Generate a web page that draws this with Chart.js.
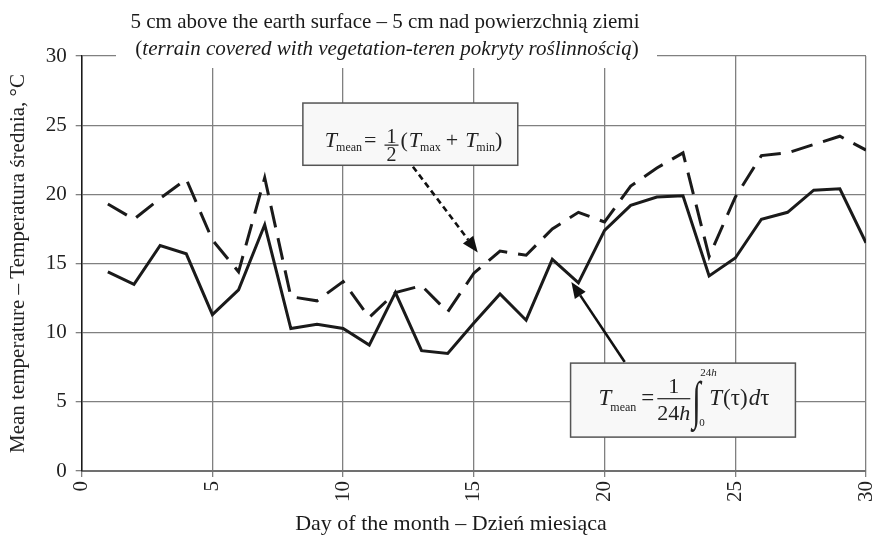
<!DOCTYPE html>
<html>
<head>
<meta charset="utf-8">
<script src="https://cdn.jsdelivr.net/npm/chart.js@4.4.1/dist/chart.umd.min.js"></script>
<style>
  html, body { margin: 0; padding: 0; background: #fff; }
  #wrap { width: 874px; height: 542px; }
</style>
</head>
<body>
<div id="wrap"><canvas id="tempChart" width="874" height="542"></canvas></div>
<script>
const SERIF = '"Liberation Serif", "Times New Roman", serif';

// day of the month
const days = [1, 2, 3, 4, 5, 6, 7, 8, 9, 10, 11, 12, 13, 14, 15,
              16, 17, 18, 19, 20, 21, 22, 23, 24, 25, 26, 27, 28, 29, 30];
// daily mean from the integral of the 24 h record
const integralMean = [14.4, 13.5, 16.3, 15.7, 11.3, 13.1, 17.8, 10.3, 10.6, 10.3,
                      9.1, 12.9, 8.7, 8.5, 10.7, 12.8, 10.9, 15.3, 13.6, 17.4,
                      19.2, 19.8, 19.9, 14.1, 15.4, 18.2, 18.7, 20.3, 20.4, 16.5];
// daily mean as (Tmax + Tmin) / 2
const minMaxMean = [19.3, 18.2, 19.7, 21.1, 16.7, 14.4, 21.2, 12.6, 12.3, 13.7,
                    11.1, 12.9, 13.4, 11.5, 14.3, 15.9, 15.6, 17.5, 18.7, 18.0,
                    20.6, 21.9, 23.0, 15.5, 19.8, 22.8, 23.0, 23.6, 24.2, 23.2];
const dayTicks = [0, 5, 10, 15, 20, 25, 30];
const tempTicks = [0, 5, 10, 15, 20, 25, 30];

// formula boxes and arrows, in axis units
const boxMinMax = { x0: 8.46, x1: 16.68, y0: 26.6, y1: 22.1 };
const boxIntegral = { x0: 18.70, x1: 27.30, y0: 7.8, y1: 2.45 };
const arrowMinMax = { from: [12.67, 22.0], to: [15.15, 15.8] };
const arrowIntegral = { from: [20.77, 7.88], to: [18.73, 13.66] };

const toPoints = (xs, ys) => xs.map((d, i) => ({ x: d, y: ys[i] }));

function run(ctx, x, y, text, font) {
  ctx.font = font;
  ctx.fillText(text, x, y);
  return x + ctx.measureText(text).width;
}

function arrow(ctx, x0, y0, x1, y1, dash) {
  const ang = Math.atan2(y1 - y0, x1 - x0);
  const len = 16, half = 6.5;
  const bx = x1 - len * Math.cos(ang), by = y1 - len * Math.sin(ang);
  ctx.save();
  ctx.strokeStyle = '#111';
  ctx.fillStyle = '#111';
  ctx.lineWidth = 2.6;
  ctx.setLineDash(dash);
  ctx.beginPath();
  ctx.moveTo(x0, y0);
  ctx.lineTo(bx, by);
  ctx.stroke();
  ctx.setLineDash([]);
  ctx.beginPath();
  ctx.moveTo(x1, y1);
  ctx.lineTo(bx + half * Math.sin(ang), by - half * Math.cos(ang));
  ctx.lineTo(bx - half * Math.sin(ang), by + half * Math.cos(ang));
  ctx.closePath();
  ctx.fill();
  ctx.restore();
}

function box(ctx, sx, sy, b) {
  const x = sx.getPixelForValue(b.x0), y = sy.getPixelForValue(b.y0);
  const w = sx.getPixelForValue(b.x1) - x, h = sy.getPixelForValue(b.y1) - y;
  ctx.fillStyle = '#f8f8f8';
  ctx.fillRect(x, y, w, h);
  ctx.strokeStyle = '#555';
  ctx.lineWidth = 1.5;
  ctx.strokeRect(x, y, w, h);
  return { x, y, w, h };
}

const titleBlock = {
  id: 'titleBlock',
  beforeDatasetsDraw(chart) {
    const ctx = chart.ctx;
    ctx.save();
    ctx.fillStyle = '#fff';
    ctx.fillRect(116, 0, 541, 68);
    ctx.fillStyle = '#1a1a1a';
    ctx.textBaseline = 'alphabetic';
    const cx = 385;
    ctx.font = `21px ${SERIF}`;
    ctx.textAlign = 'center';
    ctx.fillText('5 cm above the earth surface – 5 cm nad powierzchnią ziemi', cx, 28);
    // second line: italic text in upright brackets
    ctx.textAlign = 'left';
    const mid = 'terrain covered with vegetation-teren pokryty roślinnością';
    ctx.font = `italic 21px ${SERIF}`;
    const wMid = ctx.measureText(mid).width;
    ctx.font = `21px ${SERIF}`;
    const wPar = ctx.measureText('(').width;
    let x = cx + 2 - (wMid + 2 * wPar) / 2;
    x = run(ctx, x, 55, '(', `21px ${SERIF}`);
    x = run(ctx, x, 55, mid, `italic 21px ${SERIF}`);
    run(ctx, x, 55, ')', `21px ${SERIF}`);

    // x axis caption
    ctx.textAlign = 'center';
    ctx.font = `22px ${SERIF}`;
    ctx.fillText('Day of the month – Dzień miesiąca', 451, 530);
    ctx.restore();
  }
};

const formulas = {
  id: 'formulas',
  afterDatasetsDraw(chart) {
    const ctx = chart.ctx;
    const sx = chart.scales.x, sy = chart.scales.y;
    ctx.save();
    arrow(ctx, sx.getPixelForValue(arrowMinMax.from[0]), sy.getPixelForValue(arrowMinMax.from[1]),
          sx.getPixelForValue(arrowMinMax.to[0]), sy.getPixelForValue(arrowMinMax.to[1]), [6, 4]);
    arrow(ctx, sx.getPixelForValue(arrowIntegral.from[0]), sy.getPixelForValue(arrowIntegral.from[1]),
          sx.getPixelForValue(arrowIntegral.to[0]), sy.getPixelForValue(arrowIntegral.to[1]), []);

    // T_mean = 1/2 (T_max + T_min)
    let b = box(ctx, sx, sy, boxMinMax);
    ctx.fillStyle = '#222';
    ctx.textAlign = 'left';
    ctx.textBaseline = 'alphabetic';
    let by = b.y + 44;
    let x = b.x + 22;
    x = run(ctx, x, by, 'T', `italic 22px ${SERIF}`);
    x = run(ctx, x - 1, by + 4, 'mean', `12px ${SERIF}`);
    x = run(ctx, x + 2, by, '=', `22px ${SERIF}`);
    let fx = x + 8, fw = 14;
    ctx.textAlign = 'center';
    run(ctx, fx + fw / 2, by - 4, '1', `20px ${SERIF}`);
    run(ctx, fx + fw / 2, by + 14, '2', `20px ${SERIF}`);
    ctx.fillRect(fx, by - 2.5, fw, 1.2);
    ctx.textAlign = 'left';
    x = fx + fw + 2;
    x = run(ctx, x, by, '(', `22px ${SERIF}`);
    x = run(ctx, x + 1, by, 'T', `italic 22px ${SERIF}`);
    x = run(ctx, x - 1, by + 4, 'max', `12px ${SERIF}`);
    x = run(ctx, x + 5, by, '+', `22px ${SERIF}`);
    x = run(ctx, x + 7, by, 'T', `italic 22px ${SERIF}`);
    x = run(ctx, x - 1, by + 4, 'min', `12px ${SERIF}`);
    run(ctx, x, by, ')', `22px ${SERIF}`);

    // T_mean = 1/24h ∫ T(τ)dτ
    b = box(ctx, sx, sy, boxIntegral);
    ctx.fillStyle = '#222';
    by = b.y + 42;
    x = b.x + 28;
    x = run(ctx, x, by, 'T', `italic 23px ${SERIF}`);
    x = run(ctx, x - 1, by + 6, 'mean', `12px ${SERIF}`);
    x = run(ctx, x + 5, by, '=', `23px ${SERIF}`);
    fx = x + 3; fw = 33;
    ctx.textAlign = 'center';
    run(ctx, fx + fw / 2, by - 12, '1', `22px ${SERIF}`);
    ctx.fillRect(fx, by - 7, fw, 1.2);
    ctx.textAlign = 'left';
    ctx.font = `22px ${SERIF}`;
    const w24 = ctx.measureText('24').width;
    ctx.font = `italic 22px ${SERIF}`;
    const wh = ctx.measureText('h').width;
    let dx = fx + (fw - w24 - wh) / 2;
    dx = run(ctx, dx, by + 15, '24', `22px ${SERIF}`);
    run(ctx, dx, by + 15, 'h', `italic 22px ${SERIF}`);
    x = fx + fw + 2;
    // tall integral sign
    ctx.save();
    ctx.translate(x, by + 13);
    ctx.scale(1, 1.7);
    run(ctx, 0, 0, '∫', `31px ${SERIF}`);
    ctx.restore();
    let lx = run(ctx, x + 8, by - 29, '24', `11px ${SERIF}`);
    run(ctx, lx, by - 29, 'h', `italic 11px ${SERIF}`);
    run(ctx, x + 7, by + 21, '0', `11px ${SERIF}`);
    x += 17;
    x = run(ctx, x, by, 'T', `italic 23px ${SERIF}`);
    x = run(ctx, x + 1, by, '(τ)', `23px ${SERIF}`);
    x = run(ctx, x + 1, by, 'd', `italic 23px ${SERIF}`);
    run(ctx, x, by, 'τ', `23px ${SERIF}`);
    ctx.restore();
  }
};

new Chart(document.getElementById('tempChart').getContext('2d'), {
  type: 'line',
  data: {
    datasets: [
      {
        label: 'Tmean integral',
        data: toPoints(days, integralMean),
        borderColor: '#1a1a1a',
        borderWidth: 3,
        pointRadius: 0,
        tension: 0,
        fill: false
      },
      {
        label: 'Tmean (Tmax+Tmin)/2',
        data: toPoints(days, minMaxMean),
        borderColor: '#1a1a1a',
        borderWidth: 3,
        borderDash: [22, 11],
        pointRadius: 0,
        tension: 0,
        fill: false
      }
    ]
  },
  options: {
    responsive: false,
    animation: false,
    devicePixelRatio: 1,
    layout: { padding: { left: 0, right: 8, top: 56, bottom: 0 } },
    plugins: {
      legend: { display: false },
      tooltip: { enabled: false }
    },
    scales: {
      x: {
        type: 'linear',
        min: 0,
        max: 30,
        afterBuildTicks: s => { s.ticks = dayTicks.map(v => ({ value: v })); },
        afterFit: s => { s.height = 71; s.paddingLeft = 0; s.paddingRight = 0; },
        grid: { color: '#808080', lineWidth: 1.3, tickLength: 6 },
        border: { color: '#707070', width: 2 },
        ticks: {
          font: { family: SERIF, size: 21 },
          color: '#222',
          minRotation: 90,
          maxRotation: 90,
          padding: 4
        }
      },
      y: {
        min: 0,
        max: 30,
        afterBuildTicks: s => { s.ticks = tempTicks.map(v => ({ value: v })); },
        afterFit: s => { s.width = 81.7; s.paddingTop = 0; s.paddingBottom = 0; },
        grid: { color: '#808080', lineWidth: 1.3, tickLength: 6 },
        border: { color: '#1a1a1a', width: 1.5 },
        ticks: {
          font: { family: SERIF, size: 21 },
          color: '#222',
          padding: 9
        },
        title: {
          display: true,
          text: 'Mean temperature – Temperatura średnia, °C',
          font: { family: SERIF, size: 21 },
          color: '#222',
          padding: { top: 6, bottom: 0 }
        }
      }
    }
  },
  plugins: [titleBlock, formulas]
});
</script>
</body>
</html>
